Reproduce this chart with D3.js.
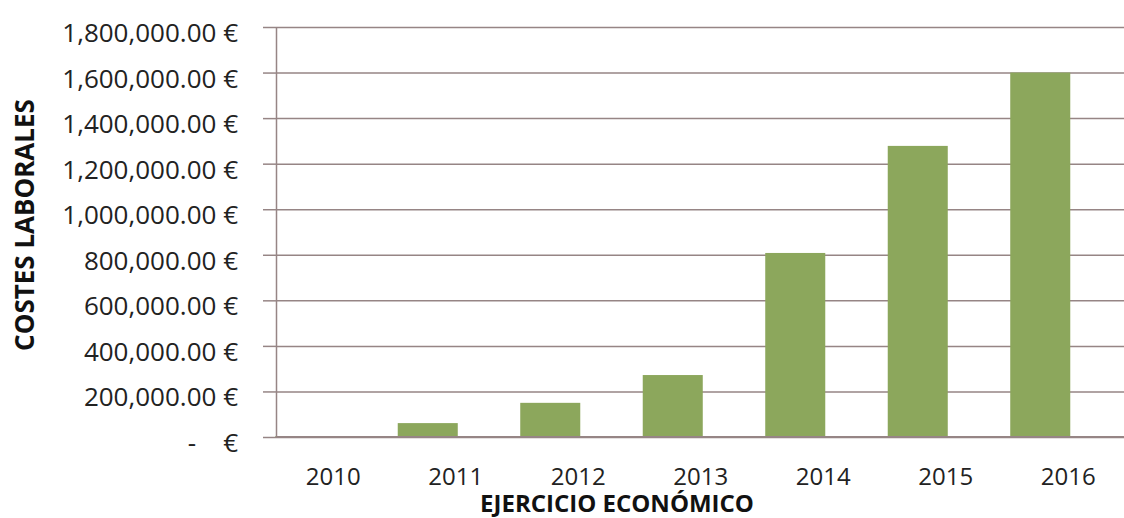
<!DOCTYPE html>
<html>
<head>
<meta charset="utf-8">
<script src="https://cdn.jsdelivr.net/npm/d3@7"></script>
<style>
  body { margin: 0; background: #fff; }
  svg { display: block; font-family: "Open Sans", sans-serif; }
  .tick text { fill: #222; white-space: pre; font-family: "Open Sans", sans-serif; }
</style>
</head>
<body>
<svg id="chart"></svg>
<script>
const W = 1124, H = 518;
const years = ["2010", "2011", "2012", "2013", "2014", "2015", "2016"];
const costs = [4000, 61000, 150000, 272000, 808000, 1278000, 1600000];
const yTicks = [0, 200000, 400000, 600000, 800000, 1000000, 1200000, 1400000, 1600000, 1800000];

const plot = {left: 276, right: 1124, top: 27, bottom: 437};
const gridColor = "#968585";
const barColor = "#8CA75C";

const svg = d3.select("#chart").attr("width", W).attr("height", H);

const x = d3.scaleBand()
    .domain(years)
    .range([244, 1101.5])
    .paddingInner(0.51)
    .paddingOuter(0.255);

const y = d3.scaleLinear()
    .domain([0, 1800000])
    .range([plot.bottom, plot.top]);

// gridlines
svg.append("g")
    .attr("transform", "translate(" + plot.left + ",0)")
    .call(d3.axisRight(y).tickValues(yTicks).tickSize(plot.right - plot.left).tickFormat(""))
    .call(g => g.select(".domain").remove())
    .selectAll("line")
    .attr("stroke", gridColor)
    .attr("stroke-width", 1.5);

// bars
svg.selectAll(".bar")
    .data(years.map((yr, i) => ({year: yr, value: costs[i]})))
    .enter().append("rect")
    .attr("class", "bar")
    .attr("x", d => x(d.year))
    .attr("y", d => y(d.value))
    .attr("width", x.bandwidth())
    .attr("height", d => y(0) - y(d.value))
    .attr("fill", barColor);

// baseline
svg.append("line")
    .attr("x1", plot.left).attr("x2", plot.right)
    .attr("y1", y(0)).attr("y2", y(0))
    .attr("stroke", gridColor).attr("stroke-width", 2);

// y axis
const fmt = d3.format(",.2f");
const yAxis = svg.append("g")
    .attr("transform", "translate(" + plot.left + ",0)")
    .call(d3.axisLeft(y)
        .tickValues(yTicks)
        .tickSizeInner(13)
        .tickSizeOuter(0)
        .tickPadding(25)
        .tickFormat(d => d === 0 ? "-    €" : fmt(d) + " €"));
yAxis.attr("font-family", null);
yAxis.select(".domain").attr("stroke", gridColor).attr("stroke-width", 1.5);
yAxis.selectAll("line").attr("stroke", gridColor).attr("stroke-width", 1.5);
yAxis.selectAll("text")
    .attr("dy", null)
    .attr("y", 14.5)
    .style("font-size", "26px");

// x labels (sit a little right of the bars, as in the source)
const xAxis = svg.append("g")
    .attr("transform", "translate(28," + plot.bottom + ")")
    .call(d3.axisBottom(x).tickSize(0).tickPadding(0));
xAxis.attr("font-family", null);
xAxis.select(".domain").remove();
xAxis.selectAll("text")
    .attr("dy", null)
    .attr("y", 48)
    .style("font-size", "24px");

// axis titles
svg.append("text")
    .attr("x", 617)
    .attr("y", 512)
    .attr("text-anchor", "middle")
    .style("font-size", "24px")
    .style("font-weight", "bold")
    .attr("fill", "#111")
    .text("EJERCICIO ECONÓMICO");

svg.append("text")
    .attr("transform", "translate(34,225) rotate(-90)")
    .attr("text-anchor", "middle")
    .style("font-size", "26px")
    .style("font-weight", "bold")
    .attr("fill", "#111")
    .text("COSTES LABORALES");
</script>
</body>
</html>
